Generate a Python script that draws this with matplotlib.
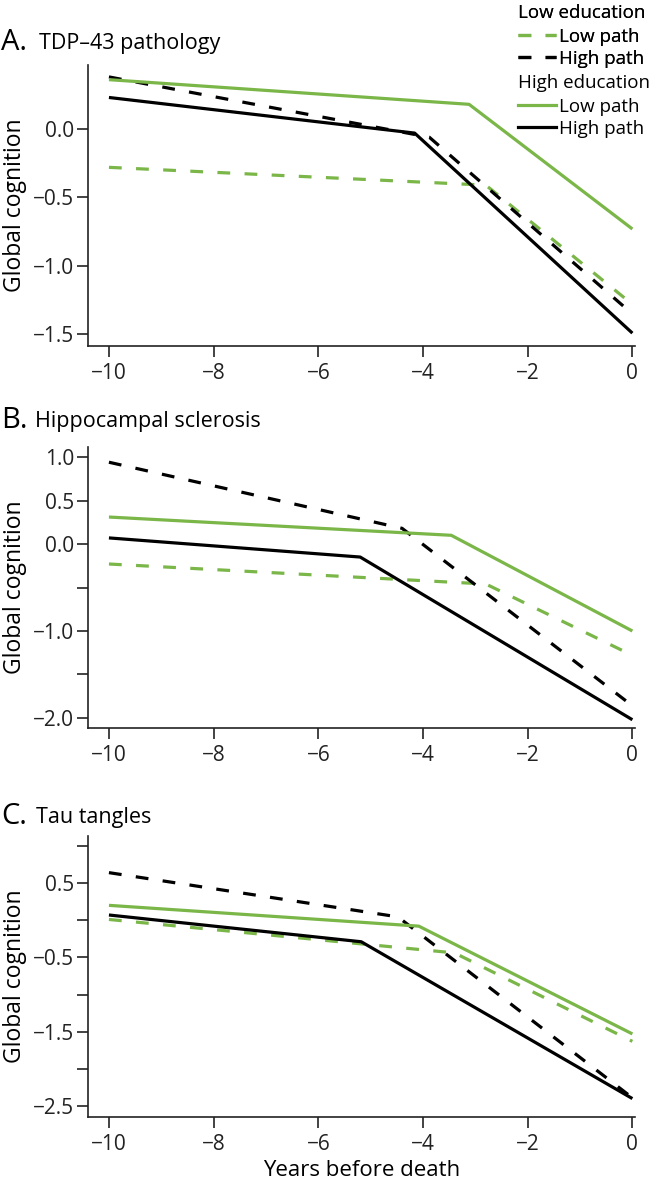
import matplotlib
matplotlib.use("Agg")
import matplotlib.pyplot as plt
from matplotlib.lines import Line2D

plt.rcParams["font.family"] = ["Open Sans", "DejaVu Sans"]

GREEN = "#7ab648"
BLACK = "#000000"

# breakpoints (years before death) and global cognition values
# A. TDP-43 pathology
a_low_edu_low_x = [-10, -2.8, 0]
a_low_edu_low_y = [-0.28, -0.41, -1.28]
a_low_edu_high_x = [-10, -3.88, 0]
a_low_edu_high_y = [0.38, -0.06, -1.35]
a_high_edu_low_x = [-10, -3.12, 0]
a_high_edu_low_y = [0.36, 0.18, -0.73]
a_high_edu_high_x = [-10, -4.16, 0]
a_high_edu_high_y = [0.23, -0.03, -1.49]

# B. Hippocampal sclerosis
b_low_edu_low_x = [-10, -2.8, 0]
b_low_edu_low_y = [-0.23, -0.46, -1.28]
b_low_edu_high_x = [-10, -4.4, 0]
b_low_edu_high_y = [0.94, 0.18, -1.86]
b_high_edu_low_x = [-10, -3.46, 0]
b_high_edu_low_y = [0.31, 0.10, -1.0]
b_high_edu_high_x = [-10, -5.2, 0]
b_high_edu_high_y = [0.07, -0.15, -2.02]

# C. Tau tangles
c_low_edu_low_x = [-10, -3.4, 0]
c_low_edu_low_y = [0.01, -0.44, -1.63]
c_low_edu_high_x = [-10, -4.48, 0]
c_low_edu_high_y = [0.64, 0.045, -2.39]
c_high_edu_low_x = [-10, -4.08, 0]
c_high_edu_low_y = [0.20, -0.08, -1.53]
c_high_edu_high_x = [-10, -5.18, 0]
c_high_edu_high_y = [0.07, -0.29, -2.40]

x_ticks = [-10, -8, -6, -4, -2, 0]

W, H = 657, 1187
fig = plt.figure(figsize=(W / 100, H / 100), dpi=100)


def px_axes(left, top, right, bottom):
    return fig.add_axes([left / W, 1 - bottom / H, (right - left) / W, (bottom - top) / H])


panels = [
    dict(box=(88, 65, 635, 346), ylim=(-1.584, 0.467),
         yticks=[0.0, -0.5, -1.0, -1.5], ylabels=["0.0", "\u22120.5", "\u22121.0", "\u22121.5"],
         letter="A.", title="TDP\u201343 pathology", ty=42, tx=39,
         lines=[(a_low_edu_low_x, a_low_edu_low_y, GREEN, "--"),
                (a_low_edu_high_x, a_low_edu_high_y, BLACK, "--"),
                (a_high_edu_low_x, a_high_edu_low_y, GREEN, "-"),
                (a_high_edu_high_x, a_high_edu_high_y, BLACK, "-")]),
    dict(box=(88, 447, 635, 728), ylim=(-2.115, 1.115),
         yticks=[1.0, 0.5, 0.0, -0.5, -1.0, -1.5, -2.0],
         ylabels=["1.0", "0.5", "0.0", "", "\u22121.0", "", "\u22122.0"],
         letter="B.", title="Hippocampal sclerosis", ty=420, tx=35,
         lines=[(b_low_edu_low_x, b_low_edu_low_y, GREEN, "--"),
                (b_low_edu_high_x, b_low_edu_high_y, BLACK, "--"),
                (b_high_edu_low_x, b_high_edu_low_y, GREEN, "-"),
                (b_high_edu_high_x, b_high_edu_high_y, BLACK, "-")]),
    dict(box=(88, 836, 635, 1117), ylim=(-2.648, 1.133),
         yticks=[1.0, 0.5, 0.0, -0.5, -1.0, -1.5, -2.0, -2.5],
         ylabels=["", "0.5", "", "\u22120.5", "", "\u22121.5", "", "\u22122.5"],
         letter="C.", title="Tau tangles", ty=816, tx=36,
         lines=[(c_low_edu_low_x, c_low_edu_low_y, GREEN, "--"),
                (c_low_edu_high_x, c_low_edu_high_y, BLACK, "--"),
                (c_high_edu_low_x, c_high_edu_low_y, GREEN, "-"),
                (c_high_edu_high_x, c_high_edu_high_y, BLACK, "-")]),
]

for i, p in enumerate(panels):
    ax = px_axes(*p["box"])
    for xs, ys, col, ls in p["lines"]:
        ax.plot(xs, ys, color=col, linestyle=ls, lw=2.3,
                dashes=(4, 4.5) if ls == "--" else (None, None), solid_capstyle="butt")
    ax.set_xlim(-10.4, 0.05)
    ax.set_ylim(*p["ylim"])
    ax.set_xticks(x_ticks)
    ax.set_xticklabels(["\u2212" + str(-t) if t < 0 else str(t) for t in x_ticks])
    ax.set_yticks(p["yticks"])
    ax.set_yticklabels(p["ylabels"])
    ax.tick_params(direction="out", length=8, width=1.2, labelsize=15, colors="#222222")
    ax.tick_params(axis="x", pad=4)
    ax.tick_params(axis="y", pad=2)
    for s in ["top", "right"]:
        ax.spines[s].set_visible(False)
    for s in ["left", "bottom"]:
        ax.spines[s].set_linewidth(1.2)
        ax.spines[s].set_color("#222222")
    ax.set_ylabel("Global cognition", fontsize=16.5)
    ax.yaxis.set_label_coords(-0.112, 0.5)
    fig.text(1 / W, 1 - p["ty"] / H, p["letter"], fontsize=21, va="center", ha="left")
    fig.text(p["tx"] / W, 1 - (p["ty"] + 2) / H, p["title"], fontsize=15.5, va="center", ha="left")
    if i == 2:
        ax.set_xlabel("Years before death", fontsize=16, labelpad=4)

# legend in the top right corner
low_handles = [Line2D([], [], color=GREEN, lw=2.3, dashes=(4, 4.5)),
               Line2D([], [], color=BLACK, lw=2.3, dashes=(4, 4.5))]
high_handles = [Line2D([], [], color=GREEN, lw=2.3),
                Line2D([], [], color=BLACK, lw=2.3)]
labels = ["Low path", "High path"]

leg_kw = dict(loc="upper left", frameon=False, fontsize=13.5, title_fontsize=13.5,
              handlelength=2.0, handletextpad=0.2, labelspacing=0.22,
              borderpad=0.0, borderaxespad=0.0, alignment="left")
leg1 = fig.legend(low_handles, labels, title="Low education",
                  bbox_to_anchor=(518 / W, 1 - 4 / H), **leg_kw)
leg2 = fig.legend(high_handles, labels, title="High education",
                  bbox_to_anchor=(518 / W, 1 - 74 / H), **leg_kw)
for leg in (leg1, leg2):
    leg._legend_box.sep = 4
fig.add_artist(leg1)

fig.savefig("out.png", dpi=100)
